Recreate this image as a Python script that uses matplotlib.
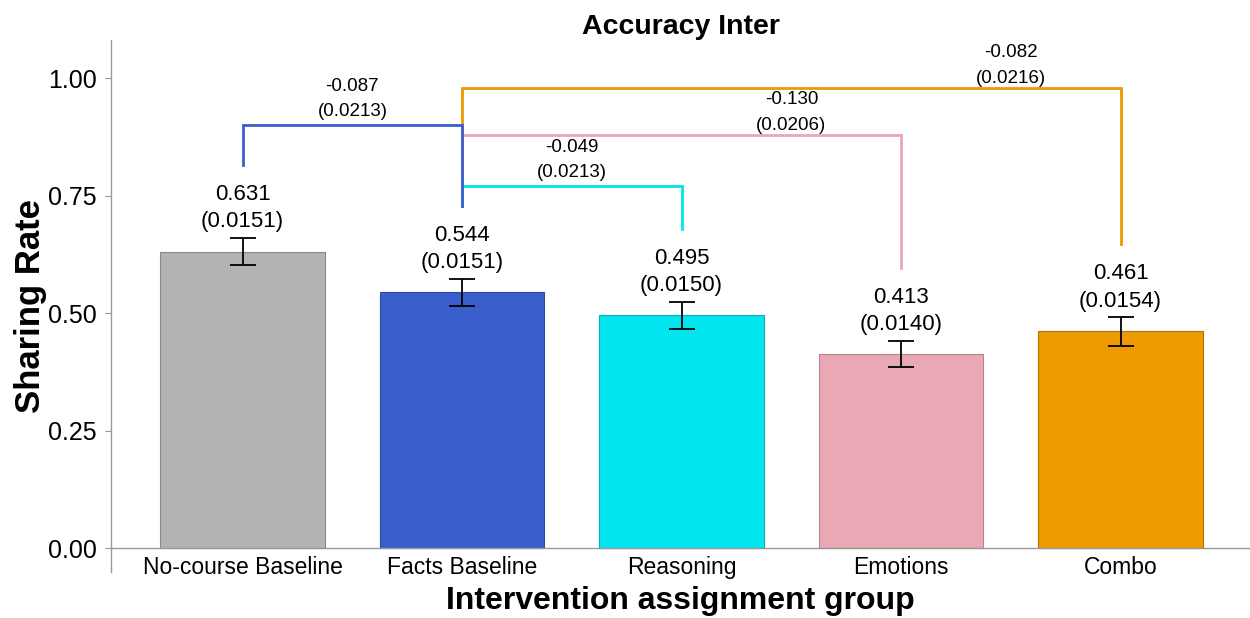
import matplotlib.pyplot as plt

plt.rcParams['font.family'] = ['Liberation Sans', 'DejaVu Sans']

# tasa de compartir por grupo de intervencion
grupos = ['No-course Baseline', 'Facts Baseline', 'Reasoning', 'Emotions', 'Combo']
tasas = [0.631, 0.544, 0.495, 0.413, 0.461]
errores = [0.0151, 0.0151, 0.0150, 0.0140, 0.0154]
colores = ['#b3b3b3', '#3a5fcd', '#00e5ee', '#eaa8b5', '#ee9a00']
bordes = ['#8a8a8a', '#2c4a9e', '#00b2b9', '#b5838d', '#b37400']

# comparaciones entre grupos: (desde, hasta, diferencia, error)
comp_desde = [1, 1, 1, 0]
comp_hasta = [4, 3, 2, 1]
comp_dif = [-0.082, -0.130, -0.049, -0.087]
comp_err = [0.0216, 0.0206, 0.0213, 0.0213]
comp_color = ['#ee9a00', '#eaa8b5', '#00e5ee', '#3a5fcd']
comp_altura = [0.98, 0.88, 0.77, 0.90]
comp_pad = [0.002, 0.002, 0.011, 0.011]

fig = plt.figure(figsize=(12.5, 6.18), dpi=100)
ax = fig.add_axes([0.0888, 0.0744, 0.9112, 0.8606])

x = list(range(len(grupos)))
ic = [1.96 * e for e in errores]
ax.bar(x, tasas, width=0.75, color=colores, edgecolor=bordes, linewidth=0.8, zorder=2)
ax.errorbar(x, tasas, yerr=ic, fmt='none', ecolor='black', elinewidth=1.3,
            capsize=9.5, capthick=1.3, zorder=3)

for i in x:
    ax.text(i, tasas[i] + ic[i] + 0.012, '{:.3f}\n({:.4f})'.format(tasas[i], errores[i]),
            ha='center', va='bottom', fontsize=16, linespacing=1.4)

# extremo inferior de cada pata de los corchetes
patas = [tasas[i] + ic[i] + 0.155 for i in x]

for k in range(len(comp_dif)):
    a, b = comp_desde[k], comp_hasta[k]
    h = comp_altura[k]
    ax.plot([a, a, b, b], [patas[a], h, h, patas[b]], color=comp_color[k],
            linewidth=2, solid_joinstyle='miter', zorder=4)
    ax.text(b - 0.5, h + comp_pad[k], '{:.3f}\n({:.4f})'.format(comp_dif[k], comp_err[k]),
            ha='center', va='bottom', fontsize=13.5, linespacing=1.65)

ax.set_xlim(-0.6, 4.59)
ax.set_ylim(-0.051, 1.081)
ax.set_yticks([0, 0.25, 0.5, 0.75, 1.0])
ax.set_yticklabels(['0.00', '0.25', '0.50', '0.75', '1.00'])
ax.set_xticks(x)
ax.set_xticklabels(grupos)
ax.tick_params(axis='y', labelsize=18, length=4, color='#999999', pad=6)
ax.tick_params(axis='x', labelsize=16.5, length=0, pad=6)

ax.spines['top'].set_visible(False)
ax.spines['right'].set_visible(False)
ax.spines['bottom'].set_position(('data', 0))
for s in ['left', 'bottom']:
    ax.spines[s].set_color('#999999')
    ax.spines[s].set_linewidth(1)

ax.set_title('Accuracy Inter', fontsize=20.5, fontweight='bold', pad=4)
ax.set_ylabel('Sharing Rate', fontsize=25, fontweight='bold', labelpad=1)
ax.set_xlabel('Intervention assignment group', fontsize=23, fontweight='bold', labelpad=5)

fig.savefig('out.png')
